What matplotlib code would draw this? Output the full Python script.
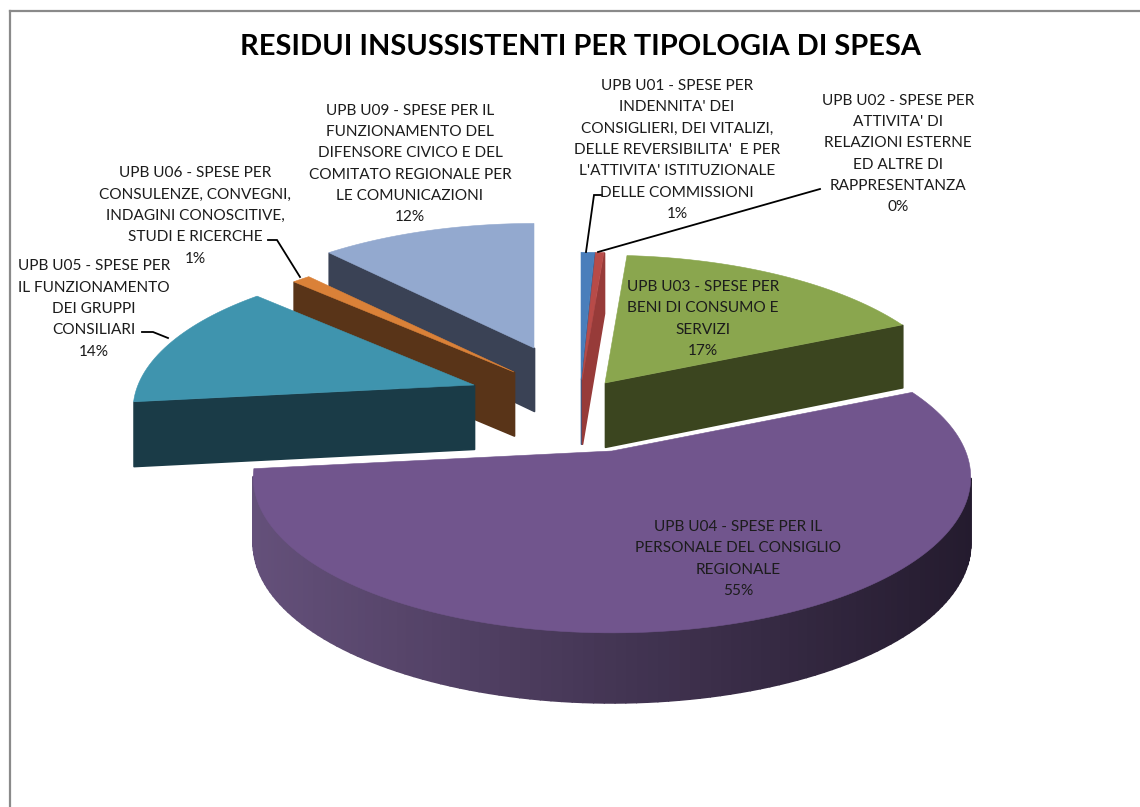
import numpy as np
import matplotlib
matplotlib.use("Agg")
import matplotlib.pyplot as plt
from matplotlib.collections import PolyCollection
from matplotlib.colors import to_rgb
from matplotlib.patches import Polygon

# ---- data ----
title = "RESIDUI INSUSSISTENTI PER TIPOLOGIA DI SPESA"
categories = [
    "UPB U01 - SPESE PER\nINDENNITA' DEI\nCONSIGLIERI, DEI VITALIZI,\nDELLE REVERSIBILITA'  E PER\nL'ATTIVITA' ISTITUZIONALE\nDELLE COMMISSIONI",
    "UPB U02 - SPESE PER\nATTIVITA' DI\nRELAZIONI ESTERNE\nED ALTRE DI\nRAPPRESENTANZA",
    "UPB U03 - SPESE PER\nBENI DI CONSUMO E\nSERVIZI",
    "UPB U04 - SPESE PER IL\nPERSONALE DEL CONSIGLIO\nREGIONALE",
    "UPB U05 - SPESE PER\nIL FUNZIONAMENTO\nDEI GRUPPI\nCONSILIARI",
    "UPB U06 - SPESE PER\nCONSULENZE, CONVEGNI,\nINDAGINI CONOSCITIVE,\nSTUDI E RICERCHE",
    "UPB U09 - SPESE PER IL\nFUNZIONAMENTO DEL\nDIFENSORE CIVICO E DEL\nCOMITATO REGIONALE PER\nLE COMUNICAZIONI",
]
values = [0.72, 0.45, 17.0, 55.0, 14.0, 1.0, 11.83]

# ---- styles and layout ----
top_colors = ["#4a7ebb", "#b84b48", "#8aa64e", "#71558d", "#3f94ae", "#da8138", "#93a9cf"]
wall_colors = ["#2f5a8c", "#973b39", "#3b451f", "#3a2c48", "#1a3b47", "#593418", "#3a4255"]
apex_x = [581, 582, 605, 612, 474, 514, 534]
apex_y = [380, 380, 383, 451, 385, 372, 348]
radius_scale = [1.0, 1.0, 1.0, 1.01, 0.96, 0.975, 0.975]
draw_order = [6, 5, 4, 0, 1, 2, 3]
label_xy = [(677, 150), (898, 154), (703, 319), (738, 559), (94, 309), (195, 216), (410, 164)]
leaders = [
    [(586, 252), (594, 195), (602, 195)],
    [(598, 252), (820, 189)],
    None, None,
    [(142, 332), (153, 332), (168, 338)],
    [(268, 240), (277, 240), (300, 277)],
    None,
]
S, T, K = 350.0, 0.427, 0.17

plt.rcParams["font.family"] = ["Lato", "DejaVu Sans"]
fig = plt.figure(figsize=(11.4, 8.07), dpi=100, facecolor="white")
ax = fig.add_axes([0, 0, 1, 1])
ax.set_xlim(0, 1140)
ax.set_ylim(807, 0)
ax.axis("off")


def project(theta, ax0, ay0, scale):
    X, Y = np.sin(theta), np.cos(theta)
    den = 1 + K * Y
    return ax0 + scale * S * X / den, ay0 - scale * S * T * Y / den


def depth(y):
    return 63 + 7 * (np.asarray(y, float) - 350) / 280


def mix(c1, c2, t):
    a, b = np.array(to_rgb(c1)), np.array(to_rgb(c2))
    return tuple(a + (b - a) * t)


def draw_slice(i, t0, t1):
    n = max(int((t1 - t0) * 40), 3)
    th = np.linspace(t0, t1, n)
    rx, ry = project(th, apex_x[i], apex_y[i], radius_scale[i])
    px = np.r_[apex_x[i], rx]
    py = np.r_[apex_y[i], ry]
    x0, x1 = px, np.roll(px, -1)
    y0, y1 = py, np.roll(py, -1)
    quads, cols = [], []
    for a, b, c, d in zip(x0, y0, x1, y1):
        if c >= a:
            continue  # wall faces away from the viewer
        quads.append([(a, b), (c, d), (c, d + depth(d)), (a, b + depth(b))])
        if i == 3:  # the big slice has a shaded rim
            f = np.clip((0.5 * (a + c) - 253) / (972 - 253), 0, 1)
            cols.append(mix("#64507a", "#241b2e", f))
        else:
            cols.append(to_rgb(wall_colors[i]))
    ax.add_collection(PolyCollection(quads, facecolors=cols, edgecolors=cols, linewidths=1.2, zorder=2))
    ax.add_patch(Polygon(np.c_[px, py], closed=True, facecolor=top_colors[i],
                         edgecolor=top_colors[i], linewidth=0.4, zorder=2))


edges = np.r_[0, np.cumsum(values)] / np.sum(values) * 2 * np.pi
for i in draw_order:
    draw_slice(i, edges[i], edges[i + 1])

for lab, v, (x, y), lead in zip(categories, values, label_xy, leaders):
    ax.text(x, y, f"{lab}\n{round(v)}%", ha="center", va="center", ma="center",
            fontsize=11.1, color="#1c1c1c", linespacing=1.66, zorder=5)
    if lead:
        ax.plot(*zip(*lead), color="black", lw=1.3, zorder=4, solid_joinstyle="miter")

ax.text(581, 47, title, ha="center", va="center", fontsize=20.9,
        fontweight="bold", color="black", zorder=5)

# chart frame: only the top and left edges are inside the picture
ax.plot([9.5, 1140], [10.5, 10.5], color="#8a8a8a", lw=1.6, zorder=1)
ax.plot([9.5, 9.5], [10.5, 807], color="#8a8a8a", lw=1.6, zorder=1)

fig.savefig("out.png", dpi=100, facecolor="white")
